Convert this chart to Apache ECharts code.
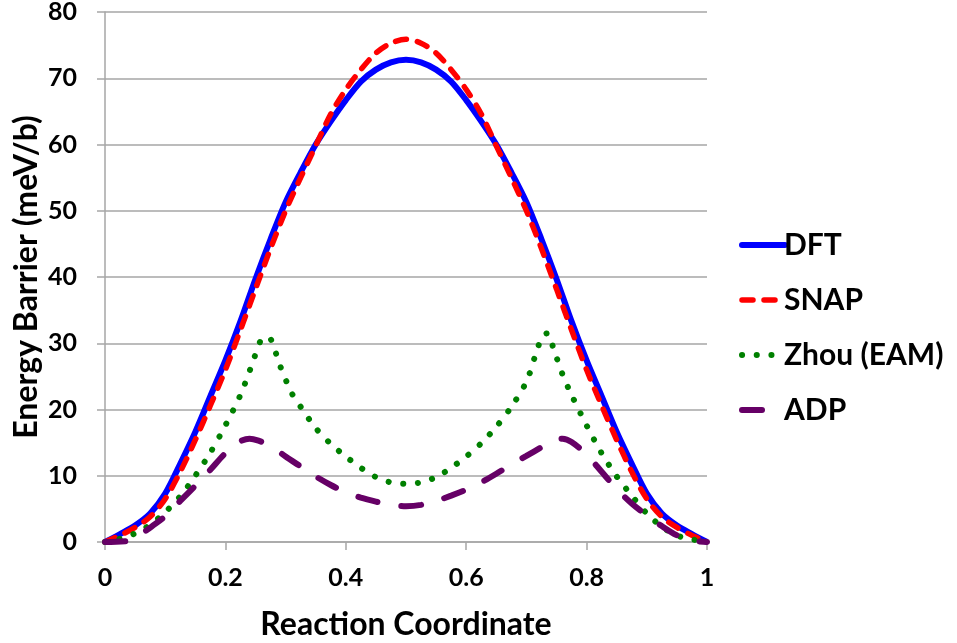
<!DOCTYPE html>
<html>
<head>
<meta charset="utf-8">
<script src="https://cdn.jsdelivr.net/npm/echarts@6/dist/echarts.min.js"></script>
<style>
html,body{margin:0;padding:0;background:#fff;}
#chart{width:957px;height:643px;}
</style>
</head>
<body>
<div id="chart"></div>
<script>
// ---- data ----
const seriesNames = ['DFT', 'SNAP', 'Zhou (EAM)', 'ADP'];

const dftX = [0, 0.025, 0.05, 0.075, 0.1, 0.125, 0.15, 0.175, 0.2, 0.225, 0.25, 0.275, 0.3, 0.325, 0.35, 0.375, 0.4, 0.425, 0.45, 0.475, 0.5,
  0.525, 0.55, 0.575, 0.6, 0.625, 0.65, 0.675, 0.7, 0.725, 0.75, 0.775, 0.8, 0.825, 0.85, 0.875, 0.9, 0.925, 0.95, 0.975, 1];
const dftY = [0, 1.2, 2.5, 4.3, 7.3, 11.8, 16.6, 22, 27.4, 33.3, 39.7, 45.7, 51.3, 55.8, 60, 63.5, 66.7, 69.5, 71.3, 72.4, 72.8,
  72.4, 71.3, 69.5, 66.7, 63.5, 60, 55.8, 51.3, 45.7, 39.7, 33.3, 27.4, 22, 16.6, 11.8, 7.3, 4.3, 2.5, 1.2, 0];

const snapX = dftX;
const snapY = [0, 1.0, 2.2, 3.8, 6.5, 10.6, 15.4, 20.6, 26, 32, 38.2, 44.3, 50, 55, 59.8, 64.6, 68.3, 71.3, 73.8, 75.3, 75.9,
  75.3, 73.8, 71.3, 68.3, 64.6, 59.8, 55, 50, 44.3, 38.2, 32, 26, 20.6, 15.4, 10.6, 6.5, 3.8, 2.2, 1.0, 0];

const zhouX = [0, 0.025, 0.05, 0.075, 0.1, 0.125, 0.15, 0.175, 0.2, 0.225, 0.245, 0.258, 0.267, 0.276, 0.29, 0.31, 0.325, 0.35, 0.375, 0.4,
  0.425, 0.45, 0.475, 0.5, 0.525, 0.55, 0.575, 0.6, 0.625, 0.65, 0.675, 0.7, 0.715, 0.727, 0.735, 0.745, 0.76, 0.775, 0.8, 0.825,
  0.85, 0.875, 0.9, 0.925, 0.95, 0.975, 1];
const zhouY = [0, 0.5, 1.3, 2.6, 4.5, 6.9, 10, 13.5, 17.6, 22.2, 27, 30.3, 31, 30.5, 26.8, 22.5, 20.4, 17.2, 14.8, 12.9,
  11.2, 9.8, 9.0, 8.8, 9.0, 9.8, 11.2, 12.9, 14.9, 17.4, 20.4, 24.2, 28.2, 31.2, 31.5, 29.2, 25.3, 22.2, 17.6, 13.4,
  9.9, 7.0, 4.3, 2.3, 1.0, 0.4, 0];

const adpX = [0, 0.04, 0.06, 0.08, 0.1, 0.125, 0.15, 0.175, 0.2, 0.225, 0.24, 0.255, 0.275, 0.3, 0.325, 0.35, 0.375, 0.4, 0.425, 0.45,
  0.475, 0.5, 0.525, 0.55, 0.575, 0.6, 0.625, 0.65, 0.675, 0.7, 0.725, 0.745, 0.76, 0.775, 0.8, 0.825, 0.85, 0.875, 0.9, 0.925,
  0.95, 0.97, 1];
const adpY = [0, 0.2, 1.2, 2.5, 3.9, 6.2, 8.5, 10.9, 13.4, 15.2, 15.6, 15.3, 14.5, 12.9, 11.4, 9.9, 8.6, 7.5, 6.7, 6.1,
  5.6, 5.4, 5.6, 6.2, 7.0, 7.9, 9.0, 10.3, 11.7, 13.0, 14.3, 15.3, 15.6, 15.1, 13.2, 10.6, 8.0, 5.8, 4.0, 2.4,
  1.0, 0.3, 0];

const xTicks = [0, 0.2, 0.4, 0.6, 0.8, 1];
const yTicks = [0, 10, 20, 30, 40, 50, 60, 70, 80];

function pairs(xs, ys) { return xs.map((x, i) => [x, ys[i]]); }

const FONT = 'Lato';
const chart = echarts.init(document.getElementById('chart'), null, {renderer: 'canvas'});
chart.setOption({
  backgroundColor: '#ffffff',
  animation: false,
  grid: {left: 105, right: 250, top: 12, bottom: 101, containLabel: false, outerBoundsMode: 'none'},
  legend: {
    data: seriesNames,
    orient: 'vertical',
    left: 734,
    top: 225,
    itemWidth: 43,
    itemHeight: 14,
    itemGap: 25,
    itemStyle: {opacity: 0},
    lineStyle: {width: 'inherit', type: 'inherit', cap: 'round'},
    textStyle: {fontFamily: FONT, fontWeight: 'bold', fontSize: 30, color: '#000', lineHeight: 30, padding: [0, 0, 0, -6]}
  },
  xAxis: {
    type: 'value', min: xTicks[0], max: xTicks[xTicks.length - 1], interval: 0.2,
    name: 'Reaction Coordinate', nameLocation: 'middle', nameGap: 67, nameMoveOverlap: false,
    nameTextStyle: {fontFamily: FONT, fontWeight: 'bold', fontSize: 32, color: '#000'},
    axisLine: {show: true, lineStyle: {color: '#A6A6A6', width: 1.5}},
    axisTick: {show: true, length: 8, lineStyle: {color: '#A6A6A6', width: 1.5}},
    axisLabel: {fontFamily: FONT, fontWeight: 'bold', fontSize: 25, color: '#000', margin: 23},
    splitLine: {show: false}
  },
  yAxis: {
    type: 'value', min: yTicks[0], max: yTicks[yTicks.length - 1], interval: 10,
    name: 'Energy Barrier (meV/b)', nameLocation: 'middle', nameGap: 62, nameMoveOverlap: false,
    nameTextStyle: {fontFamily: FONT, fontWeight: 'bold', fontSize: 32, color: '#000'},
    axisLine: {show: true, lineStyle: {color: '#A6A6A6', width: 1.5}},
    axisTick: {show: true, length: 8, lineStyle: {color: '#A6A6A6', width: 1.5}},
    axisLabel: {fontFamily: FONT, fontWeight: 'bold', fontSize: 25, color: '#000', margin: 28},
    splitLine: {show: true, lineStyle: {color: '#A6A6A6', width: 1.5}}
  },
  series: [
    {name: seriesNames[0], type: 'line', data: pairs(dftX, dftY), symbol: 'none', smooth: 0.3,
     lineStyle: {color: '#0000FF', width: 6}, itemStyle: {color: '#0000FF'}, z: 2},
    {name: seriesNames[1], type: 'line', data: pairs(snapX, snapY), symbol: 'none', smooth: 0.3,
     lineStyle: {color: '#FF0000', width: 5.5, type: [11, 11], cap: 'round'}, itemStyle: {color: '#FF0000'}, z: 3},
    {name: seriesNames[2], type: 'line', data: pairs(zhouX, zhouY), symbol: 'none', smooth: 0.3,
     lineStyle: {color: '#008000', width: 6, type: [0.1, 14.6], cap: 'round'}, itemStyle: {color: '#008000'}, z: 4},
    {name: seriesNames[3], type: 'line', data: pairs(adpX, adpY), symbol: 'none', smooth: 0.3,
     lineStyle: {color: '#660066', width: 6, type: [20, 24], cap: 'round'}, itemStyle: {color: '#660066'}, z: 5}
  ]
});
</script>
</body>
</html>
